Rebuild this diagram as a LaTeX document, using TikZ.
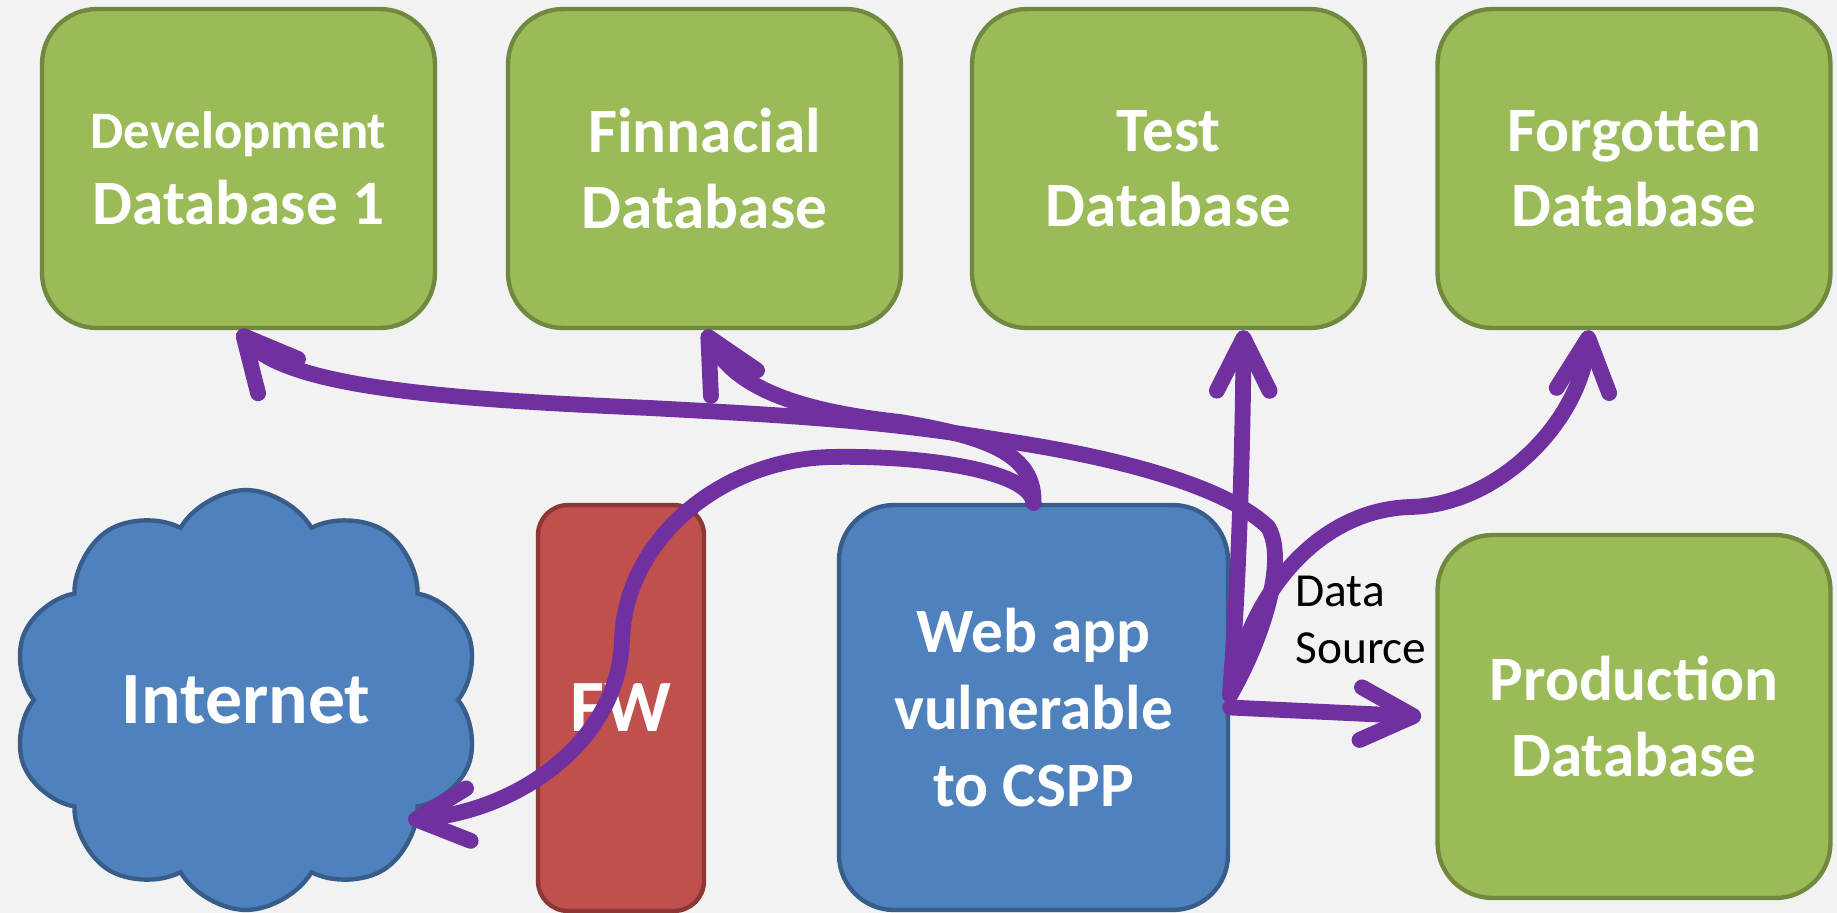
\documentclass[tikz,border=0pt]{standalone}
\usepackage{fontspec}
\setmainfont{Carlito}
\usetikzlibrary{arrows.meta}
\usetikzlibrary{shapes.symbols}
\usetikzlibrary{calc}
\definecolor{fond}{HTML}{F2F2F2}
\definecolor{vert}{HTML}{9BBB59}
\definecolor{vertfonce}{HTML}{71893F}
\definecolor{bleu}{HTML}{4F81BD}
\definecolor{bleufonce}{HTML}{385D8A}
\definecolor{rouge}{HTML}{C0504D}
\definecolor{rougefonce}{HTML}{8C3836}
\definecolor{mauve}{HTML}{7030A0}

\begin{document}
\begin{tikzpicture}[x=0.02cm, y=-0.02cm]
	% STYLES
	\tikzstyle{base} = [draw=vertfonce, fill=vert, line width=2.5pt, rounded corners=1.1cm,
		minimum width=7.86cm, minimum height=6.38cm, text=white, align=center,
		font=\bfseries\fontsize{36}{43}\selectfont]
	\tikzstyle{appli} = [base, draw=bleufonce, fill=bleu, minimum width=7.78cm, minimum height=8.1cm,
		font=\bfseries\fontsize{36}{44}\selectfont]
	\tikzstyle{parefeu} = [base, draw=rougefonce, fill=rouge, rounded corners=0.6cm,
		minimum width=3.32cm, minimum height=8.12cm, font=\bfseries\fontsize{42}{50}\selectfont]
	\tikzstyle{nuage} = [cloud, cloud puffs=10, cloud puff arc=120, aspect=1.1,
		draw=bleufonce, fill=bleu, line width=2.5pt, minimum width=9.36cm, minimum height=8.4cm,
		text=white, font=\bfseries\fontsize{42}{50}\selectfont]
	\tikzstyle{source} = [inner sep=0pt, align=left, text=black, font=\fontsize{27}{32}\selectfont]
	\tikzstyle{fleche} = [line width=9pt, draw=mauve, line cap=round,
		-{Straight Barb[length=30pt, width=30pt, round]}]

	% FOND
	\fill[fond] (0, 0) rectangle (1837, 913);
	\useasboundingbox (0, 0) rectangle (1837, 913);

	% BASES
	\node[base] (dev) at (238.5, 168.5)
		{\fontsize{30}{44}\selectfont Development\\\fontsize{36}{44}\selectfont Database 1};
	\node[base] (fin) at (704.5, 168.5) {Finnacial\\Database};
	\node[base] (test) at (1168.5, 168.5) {Test\\Database};
	\node[base] (forgot) at (1634, 168.5) {Forgotten\\Database};
	\node[base, minimum height=7.26cm] (prod) at (1634, 716.5) {Production\\Database};

	% RESEAU
	\node[nuage] (net) at (246, 700) {Internet\hspace{18pt}};
	\node[parefeu] (fw) at (621, 708) {FW};
	\node[appli] (web) at (1033.5, 707.5) {Web app\\vulnerable\\to CSPP};
	\coordinate (src) at ([yshift=7pt]web.east);

	% FLECHES
	% vers Development
	\draw[fleche] (src) .. controls (1262, 640) and (1288, 560) .. (1268, 527)
		.. controls (1235, 495) and (1150, 462) .. (1000, 440)
		.. controls (880, 420) and (780, 415) .. (650, 408)
		.. controls (470, 400) and (290, 390) .. (dev.south);
	% vers Finnacial
	\draw[fleche] (web.north) .. controls (1035, 455) and (990, 437) .. (900, 422)
		.. controls (790, 410) and (735, 385) .. (fin.south);
	% vers Internet
	\draw[fleche] (web.north) .. controls (1030, 470) and (920, 455) .. (830, 457)
		.. controls (720, 460) and (625, 540) .. (622, 640)
		.. controls (619, 740) and (520, 810) .. ($(net.center)+(162, 120)$);
	% vers Test
	\draw[fleche] ([yshift=3pt]src) .. controls (1238, 600) and (1243, 450) .. ($(test.south)+(75, 0)$);
	% vers Forgotten
	\draw[fleche] (src) .. controls (1250, 590) and (1320, 510) .. (1410, 507)
		.. controls (1500, 505) and (1580, 420) .. ($(forgot.south)+(-45, 0)$);
	% vers Production
	\draw[fleche] (web.east) -- ([xshift=-8pt]prod.west);

	% DATA SOURCE
	\node[source, anchor=north west] (ds) at (1295, 576) {Data\\Source};
\end{tikzpicture}
\end{document}
